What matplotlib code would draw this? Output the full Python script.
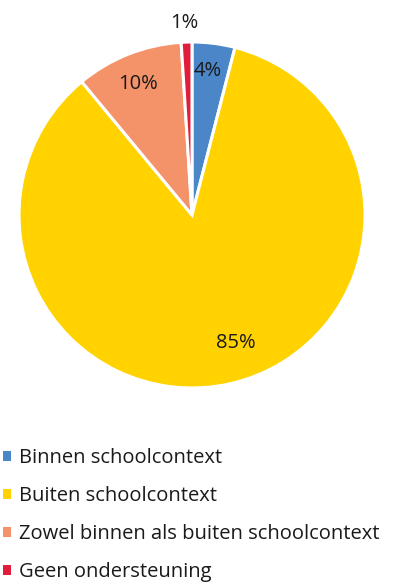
import matplotlib

matplotlib.use("Agg", force=True)
import matplotlib.pyplot as plt
import numpy as np

categories = [
    "Binnen schoolcontext",
    "Buiten schoolcontext",
    "Zowel binnen als buiten schoolcontext",
    "Geen ondersteuning",
]
shares = [4, 85, 10, 1]
colors = ["#4a86c8", "#ffd200", "#f4936a", "#e01e3c"]

# label placement per slice: radial distance and small angular nudge (degrees)
label_dist = [0.84, 0.78, 0.82, 1.11]
label_nudge = [1.0, 6.4, 0.6, 0.6]

plt.rcParams["font.family"] = ["Open Sans", "DejaVu Sans"]

W, H = 399, 582
fig = plt.figure(figsize=(W / 100, H / 100), dpi=100)

cx, cy, r = 192, 215, 173
ax = fig.add_axes([(cx - r) / W, 1 - (cy + r) / H, 2 * r / W, 2 * r / H])
wedges, _ = ax.pie(
    shares,
    colors=colors,
    startangle=90,
    counterclock=False,
    radius=1.0,
    wedgeprops=dict(edgecolor="white", linewidth=2.2),
)
ax.set_xlim(-1, 1)
ax.set_ylim(-1, 1)
ax.set_aspect("equal")
ax.axis("off")

total = float(sum(shares))
start = 90.0
for val, d, nudge in zip(shares, label_dist, label_nudge):
    sweep = val / total * 360.0
    mid = np.deg2rad(start - sweep / 2 + nudge)
    ax.text(d * np.cos(mid), d * np.sin(mid), f"{val}%", ha="center", va="center",
            fontsize=14.5, color="#1a1a1a")
    start -= sweep

fig.legend(
    wedges,
    categories,
    loc="upper left",
    bbox_to_anchor=(3 / W, 1 - 448 / H),
    frameon=False,
    fontsize=14.5,
    handlelength=0.4,
    handleheight=0.4,
    handletextpad=0.4,
    labelspacing=0.9,
    borderaxespad=0.0,
    borderpad=0.0,
    labelcolor="#1a1a1a",
)
for h in fig.legends[0].legend_handles:
    h.set_edgecolor("none")

fig.savefig("out.png", dpi=100)
plt.close(fig)
